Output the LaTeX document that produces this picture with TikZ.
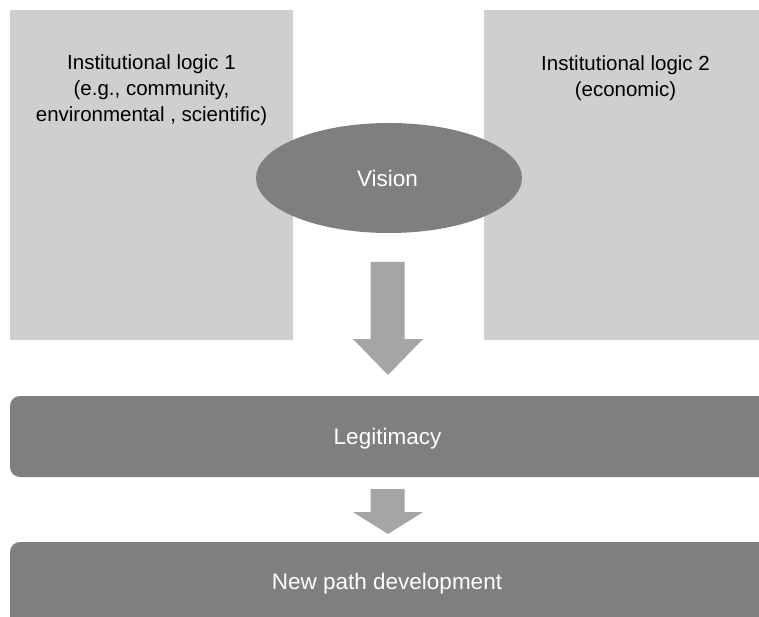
\documentclass[tikz,border=0pt]{standalone}
\usepackage{fontspec}
\setmainfont{Liberation Sans}
\usetikzlibrary{shapes.geometric}
\definecolor{logicgray}{HTML}{D0CECE}
\definecolor{darkgray}{HTML}{7F7F7F}
\definecolor{arrowgray}{HTML}{A5A5A5}
\begin{document}
\begin{tikzpicture}[x=1pt,y=-1pt,
  logicbox/.style={fill=logicgray,draw=none},
  logictext/.style={align=center,font=\fontsize{20.5}{26}\selectfont,text=black,inner sep=0pt},
  darktext/.style={font=\fontsize{22.5}{27}\selectfont,text=white,inner sep=0pt},
  barbox/.style={fill=darkgray,draw=none,rounded corners=10pt},
  blockarrow/.style={fill=arrowgray,draw=none}]
\useasboundingbox (0,0) rectangle (759,617);
\fill[white] (0,0) rectangle (759,617);

% institutional logic panels
\fill[logicbox] (10,10) rectangle (293,340);
\fill[logicbox] (484,10) rectangle (768,340);
\node[logictext] (logic1) at (151.5,90.5) {Institutional logic 1\\(e.g., community,\\environmental , scientific)};
\node[logictext,anchor=north] (logic2) at (625.5,55) {Institutional logic 2\\(economic)};

% vision ellipse
\node[ellipse,fill=darkgray,minimum width=266pt,minimum height=110pt,inner sep=0pt] (vision) at (389,178) {};
\node[darktext] (visiontext) at (387.5,178) {Vision};

% legitimacy and development bars
\fill[barbox] (10,396) rectangle (770,477);
\node[darktext] (legit) at (387.5,439) {Legitimacy};
\fill[barbox] (10,542) rectangle (770,632);
\node[darktext] (newpath) at (387,584) {New path development};

% block arrows between stages
\fill[blockarrow] (370.5,262) -- (404.5,262) -- (404.5,339) -- (423,339) -- (388,375)
  -- (353,339) -- (370.5,339) -- cycle;
\fill[blockarrow] (370.5,489) -- (404.5,489) -- (404.5,512) -- (423,512) -- (388,534)
  -- (353,512) -- (370.5,512) -- cycle;
\end{tikzpicture}
\end{document}
